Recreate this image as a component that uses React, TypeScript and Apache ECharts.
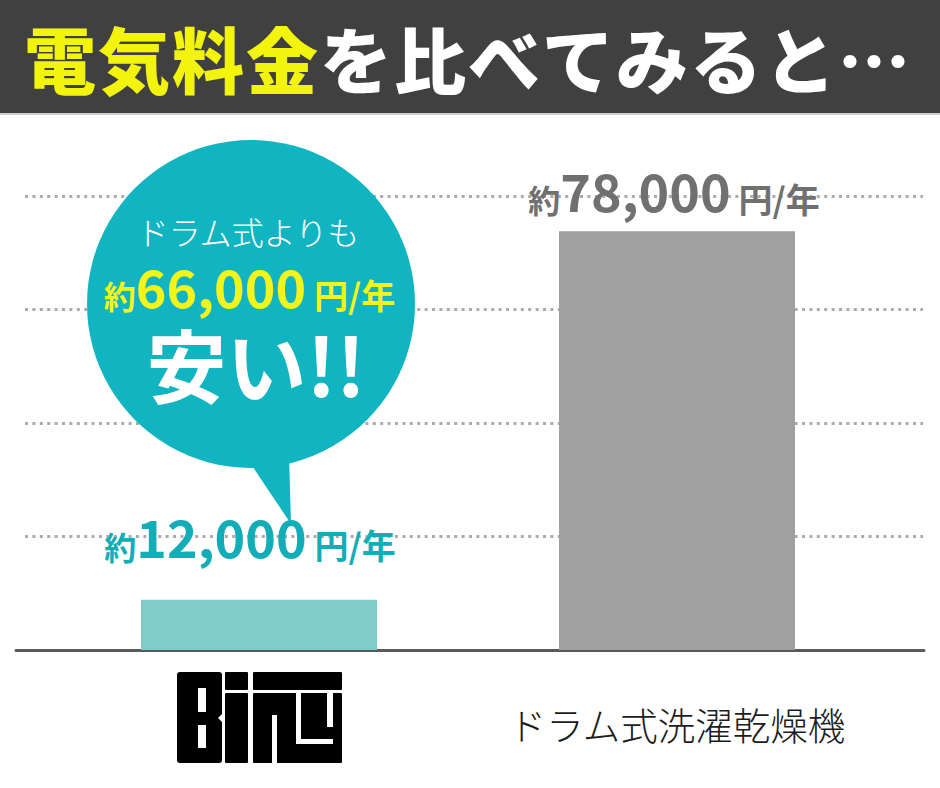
import React, { useEffect, useRef } from 'react';
import * as echarts from 'echarts';

// ---- data ----
const categories = ['Binu', 'ドラム式洗濯乾燥機'];
const annualCost = [12000, 78000];
const savingPerYear = 66000;
const titleHighlight = '電気料金';
const titleRest = 'を比べてみると…';
const bubbleLead = 'ドラム式よりも';
const bubbleShout = '安い!!';
const gridSteps = [0, 1, 2, 3, 4];

const FONT = '"Noto Sans CJK JP", "Noto Sans", sans-serif';
const barColors = ['#7fcdc8', '#a0a0a0'];
const labelColors = ['#13adb8', '#707070'];
const labelDistance = [38, 16];
const labelOffsetX = [-9, -3];

const fmt = (v: number) => v.toLocaleString('en-US');

const priceRich = (color: string, key: 'color' | 'fill') => ({
  a: { fontSize: 32, fontWeight: 'bold', [key]: color, fontFamily: FONT, lineHeight: 35, verticalAlign: 'bottom' },
  b: { fontSize: 52, fontWeight: 'bold', [key]: color, fontFamily: FONT, lineHeight: 52, verticalAlign: 'bottom' },
  c: { fontSize: 34, fontWeight: 'bold', [key]: color, fontFamily: FONT, lineHeight: 36, verticalAlign: 'bottom', padding: [0, 0, 0, 8] },
});
const priceText = (v: number) => `{a|約}{b|${fmt(v)}}{c|円/年}`;

// logo pieces (local coordinates)
const logoBlack = [
  [0, 0, 45, 91],
  [48, 0, 23, 18],
  [48, 21, 23, 70],
  [76, 0, 89, 18],
  [76, 21, 89, 70],
];
const logoWhite = [
  [21, 16, 8, 24],
  [21, 53, 8, 23],
  [95, 43, 5, 48],
  [119, 21, 5, 51],
  [119, 67, 37, 5],
  [150, 21, 6, 34],
];

export default function App() {
  const ref = useRef<HTMLDivElement>(null);
  useEffect(() => {
    if (!ref.current) return;
    const chart = echarts.init(ref.current, null, { renderer: 'svg', width: 940, height: 788 });

    const logoChildren: any[] = [];
    logoBlack.forEach(([x, y, w, h], i) =>
      logoChildren.push({ type: 'rect', shape: { x, y, width: w, height: h, r: i === 0 ? 3 : 1 }, style: { fill: '#000' } })
    );
    logoWhite.forEach(([x, y, w, h]) =>
      logoChildren.push({ type: 'rect', shape: { x, y, width: w, height: h }, style: { fill: '#fff' } })
    );
    logoChildren.push({ type: 'polygon', shape: { points: [[46, 41], [41, 46], [46, 51]] }, style: { fill: '#fff' } });

    // title, one glyph per slot (letter-spaced like the reference)
    const titleChars = [
      ...Array.from(titleHighlight).map((c) => ({ c, fill: '#f3f40c' })),
      ...Array.from(titleRest).map((c) => ({ c, fill: '#ffffff' })),
    ];
    const titleEls = titleChars.map((t, i) => ({
      type: 'text',
      z: 51,
      x: 24 + i * 74,
      y: 56,
      style: {
        text: t.c,
        fill: t.fill,
        fontSize: 72,
        fontWeight: 900,
        fontFamily: FONT,
        align: 'left',
        textAlign: 'left',
        verticalAlign: 'middle',
        textVerticalAlign: 'middle',
      },
    }));

    const option: any = {
      animation: false,
      backgroundColor: '#ffffff',
      textStyle: { fontFamily: FONT },
      grid: [
        { left: 50, right: 54, top: 196, bottom: 138 },
        { left: 25, right: 17, top: 196, bottom: 138 },
        { left: 16, right: 16, top: 196, bottom: 138 },
      ],
      xAxis: [
        {
          type: 'category',
          gridIndex: 0,
          data: categories,
          axisLine: { show: false },
          axisTick: { show: false },
          axisLabel: {
            interval: 0,
            margin: 53,
            fontSize: 37.5,
            fontWeight: 300,
            lineHeight: 40,
            color: '#1c1c1c',
            fontFamily: FONT,
            formatter: (v: string) => (v === categories[0] ? '' : v),
          },
        },
        { type: 'value', gridIndex: 1, show: false },
        {
          type: 'value',
          gridIndex: 2,
          axisLine: { show: true, onZero: false, lineStyle: { color: '#5a5a5a', width: 3 } },
          axisTick: { show: false },
          axisLabel: { show: false },
          splitLine: { show: false },
        },
      ],
      yAxis: [
        { type: 'value', gridIndex: 0, min: 3000, max: 84300, show: false, splitLine: { show: false } },
        {
          type: 'value',
          gridIndex: 1,
          min: gridSteps[0],
          max: gridSteps[gridSteps.length - 1],
          interval: 1,
          axisLine: { show: false },
          axisTick: { show: false },
          axisLabel: { show: false },
          splitLine: { show: true, lineStyle: { color: '#ababab', width: 3, type: [3, 4.4] } },
        },
        { type: 'value', gridIndex: 2, show: false, splitLine: { show: false } },
      ],
      series: [
        {
          type: 'bar',
          xAxisIndex: 0,
          yAxisIndex: 0,
          clip: true,
          barWidth: 236,
          data: annualCost.map((v, i) => ({
            value: v,
            itemStyle: { color: barColors[i] },
            label: {
              show: true,
              position: 'top',
              distance: labelDistance[i],
              offset: [labelOffsetX[i], 0],
              formatter: priceText(v),
              rich: priceRich(labelColors[i], 'color'),
            },
          })),
        },
      ],
      graphic: [
        { type: 'rect', z: 50, shape: { x: 0, y: 0, width: 940, height: 113 }, style: { fill: '#404040' } },
        { type: 'rect', z: 50, shape: { x: 0, y: 113, width: 940, height: 2 }, style: { fill: '#cfcfcf' } },
        ...titleEls,
        // speech bubble
        { type: 'circle', z: 50, shape: { cx: 251, cy: 304, r: 164 }, style: { fill: '#10b5c1' } },
        {
          type: 'polygon',
          z: 50,
          shape: { points: [[244.8, 455], [289, 455], [291, 524]] },
          style: { fill: '#10b5c1' },
        },
        {
          type: 'text',
          z: 52,
          x: 248,
          y: 231,
          style: {
            text: bubbleLead,
            fill: '#ffffff',
            fontSize: 32,
            fontWeight: 300,
            fontFamily: FONT,
            lineHeight: 34,
            align: 'center',
            textAlign: 'center',
            verticalAlign: 'middle',
            textVerticalAlign: 'middle',
          },
        },
        {
          type: 'text',
          z: 52,
          x: 249.5,
          y: 311.3,
          style: {
            text: priceText(savingPerYear),
            align: 'center',
            textAlign: 'center',
            verticalAlign: 'bottom',
            textVerticalAlign: 'bottom',
            rich: priceRich('#f3f41c', 'fill'),
          },
        },
        {
          type: 'text',
          z: 52,
          x: 256,
          y: 362,
          style: {
            text: bubbleShout,
            fill: '#ffffff',
            fontSize: 80,
            fontWeight: 'bold',
            fontFamily: FONT,
            lineHeight: 80,
            align: 'center',
            textAlign: 'center',
            verticalAlign: 'middle',
            textVerticalAlign: 'middle',
          },
        },
        // logo
        { type: 'group', z: 50, x: 177, y: 672, children: logoChildren },
      ],
    };
    chart.setOption(option);
    return () => chart.dispose();
  }, []);
  return <div ref={ref} style={{ position: 'absolute', left: 0, top: 0, width: 940, height: 788 }} />;
}
